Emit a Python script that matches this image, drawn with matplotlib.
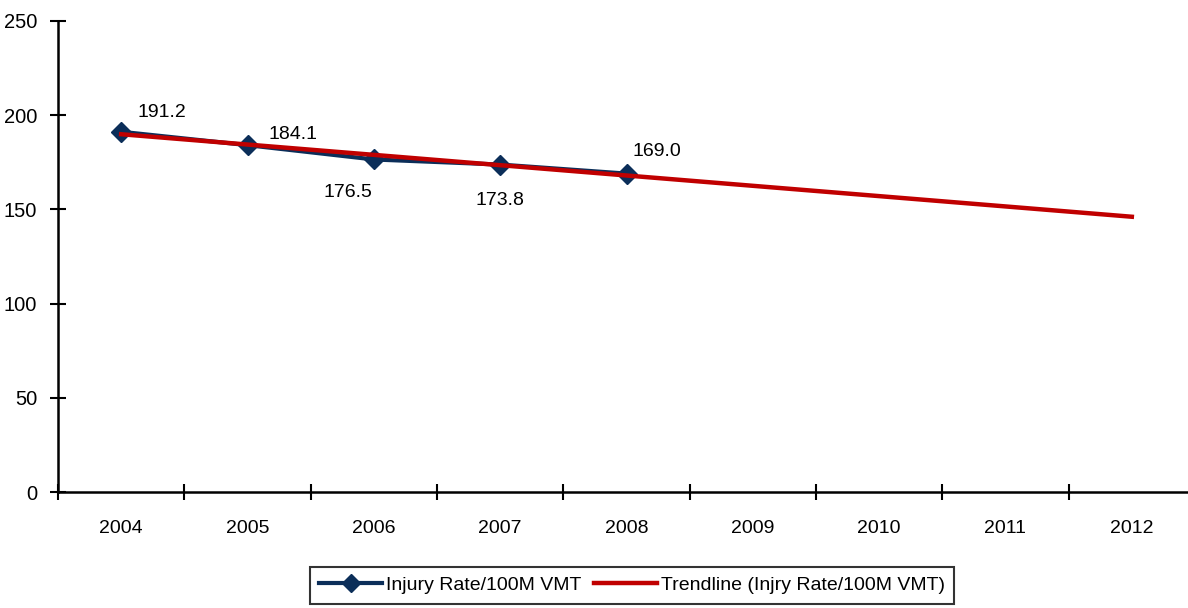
import matplotlib
matplotlib.use("Agg")
import matplotlib.pyplot as plt

plt.rcParams['font.family'] = ['Liberation Sans', 'DejaVu Sans']

years = ['2004', '2005', '2006', '2007', '2008', '2009', '2010', '2011', '2012']
injury_rate = [191.2, 184.1, 176.5, 173.8, 169.0]
trend_years_idx = [0, 8]
trend_values = [189.9, 146.1]
yticks = [0, 50, 100, 150, 200, 250]

navy = '#0b2e59'
red = '#c00000'

fig = plt.figure(figsize=(11.88, 6.08), dpi=100)
ax = fig.add_axes([58/1188, 116/608, (1195-58)/1188, (492-21)/608])

x = list(range(len(injury_rate)))
ax.plot(x, injury_rate, color=navy, lw=3, marker='D', markersize=10,
        label='Injury Rate/100M VMT', zorder=3)
ax.plot(trend_years_idx, trend_values, color=red, lw=3.2,
        label='Trendline (Injry Rate/100M VMT)', zorder=4)

offsets = [(29, 14), (33, 8), (-19, -24), (0, -26), (22, 16)]
for xi, v, off in zip(x, injury_rate, offsets):
    ax.annotate(f'{v:.1f}', (xi, v), xytext=off, textcoords='offset points',
                ha='center', va='center', fontsize=14, color='black')

ax.set_xlim(-0.5, 8.5)
ax.set_ylim(0, 250)
ax.set_yticks(yticks)
ax.set_yticklabels([str(t) for t in yticks], fontsize=14.5)
ax.set_xticks([i + 0.5 for i in range(-1, len(years))])
ax.set_xticklabels([])
ax.set_xticks(range(len(years)), minor=True)
ax.set_xticklabels(years, minor=True, fontsize=14)
ax.tick_params(axis='x', which='minor', length=0, pad=20)
ax.tick_params(axis='x', which='major', direction='inout', length=12, width=1.5)
ax.tick_params(axis='y', direction='inout', length=12, width=1.5, pad=9)

for s in ['top', 'right']:
    ax.spines[s].set_visible(False)
for s in ['left', 'bottom']:
    ax.spines[s].set_linewidth(1.8)

leg = fig.legend(loc='lower center', bbox_to_anchor=(632/1188, -0.009), ncol=2,
                 fontsize=14, frameon=True, fancybox=False, edgecolor='black',
                 handlelength=3.2, handletextpad=0.2, columnspacing=0.7,
                 borderpad=0.5, markerscale=0.9)
leg.get_frame().set_linewidth(1.5)

fig.savefig('out.png', dpi=100)
